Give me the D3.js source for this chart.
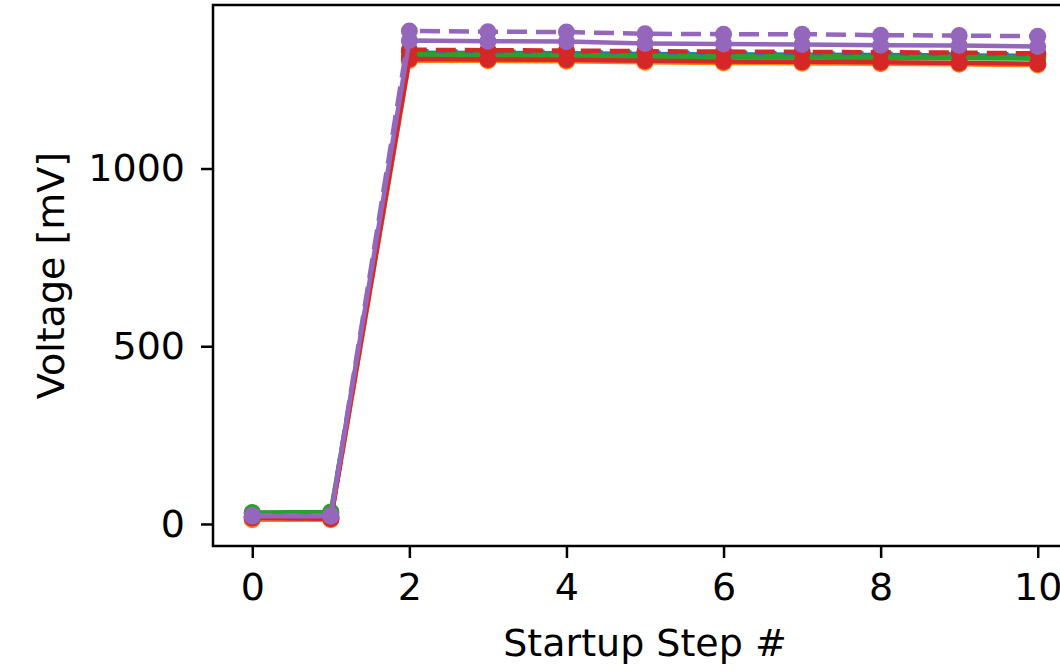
<!DOCTYPE html>
<html lang="en">
<head>
  <meta charset="UTF-8">
  <title>Startup voltage</title>
  <script src="https://d3js.org/d3.v7.min.js"></script>
  <style>
    body { margin: 0; background: #fff; }
    svg text { font-family: "DejaVu Sans", sans-serif; fill: #000; }
  </style>
</head>
<body>
<svg id="chart" width="1060" height="672"></svg>

<script>
// startup steps
var steps = [0, 1, 2, 3, 4, 5, 6, 7, 8, 9, 10];

// voltages in mV
var blueSolid    = [20, 18, 1326, 1325, 1324, 1322, 1321, 1320, 1319, 1318, 1317];
var blueDashed   = [19, 17, 1330, 1329, 1328, 1326, 1325, 1324, 1323, 1322, 1321];
var orangeSolid  = [12, 12, 1304, 1303, 1302, 1299, 1297, 1296, 1295, 1293, 1291];
var orangeDashed = [13, 13, 1306, 1305, 1304, 1301, 1299, 1298, 1297, 1295, 1293];
var greenSolid   = [32, 34, 1318, 1317, 1316, 1314, 1313, 1312, 1311, 1310, 1309];
var greenDashed  = [30, 31, 1322, 1321, 1320, 1318, 1317, 1316, 1315, 1314, 1313];
var redSolid     = [17, 15, 1308, 1307, 1306, 1303, 1301, 1300, 1299, 1297, 1295];
var redDashed    = [18, 16, 1334, 1333, 1332, 1330, 1329, 1328, 1327, 1326, 1324];
var purpleSolid  = [22, 22, 1360, 1358, 1357, 1352, 1350, 1349, 1347, 1346, 1343];
var purpleDashed = [24, 24, 1387, 1385, 1384, 1379, 1378, 1378, 1375, 1374, 1372];

var xTicks = [0, 2, 4, 6, 8, 10];
var yTicks = [0, 500, 1000];

var series = [
  { values: blueSolid,    color: "#1f77b4", dash: null },
  { values: blueDashed,   color: "#1f77b4", dash: "20,9" },
  { values: orangeSolid,  color: "#ff7f0e", dash: null },
  { values: orangeDashed, color: "#ff7f0e", dash: "20,9" },
  { values: greenSolid,   color: "#2ca02c", dash: null },
  { values: greenDashed,  color: "#2ca02c", dash: "20,9" },
  { values: redSolid,     color: "#d62728", dash: null },
  { values: redDashed,    color: "#d62728", dash: "20,9" },
  { values: purpleSolid,  color: "#9467bd", dash: null },
  { values: purpleDashed, color: "#9467bd", dash: "20,9" }
];

var svg = d3.select("#chart"),
    pLeft = 213, pTop = 5, pRight = 1077, pBottom = 546;

var x = d3.scaleLinear().domain([-0.5, 10.5]).range([pLeft, pRight]);
var y = d3.scaleLinear().domain([-62, 1460]).range([pBottom, pTop]);

svg.append("defs").append("clipPath").attr("id", "clip")
  .append("rect")
  .attr("x", pLeft).attr("y", pTop)
  .attr("width", pRight - pLeft).attr("height", pBottom - pTop);

var plot = svg.append("g").attr("clip-path", "url(#clip)");

var line = d3.line()
  .x(function (d, i) { return x(steps[i]); })
  .y(function (d) { return y(d); });

series.forEach(function (s) {
  var g = plot.append("g");
  g.append("path")
    .attr("d", line(s.values))
    .attr("fill", "none")
    .attr("stroke", s.color)
    .attr("stroke-width", 4.5)
    .attr("stroke-dasharray", s.dash)
    .attr("stroke-linejoin", "round");
  g.selectAll("circle")
    .data(s.values)
    .enter().append("circle")
    .attr("cx", function (d, i) { return x(steps[i]); })
    .attr("cy", function (d) { return y(d); })
    .attr("r", 8.5)
    .attr("fill", s.color);
});

// axes
var xAxis = d3.axisBottom(x).tickValues(xTicks).tickFormat(d3.format("d"))
  .tickSize(12).tickPadding(15).tickSizeOuter(0);
var yAxis = d3.axisLeft(y).tickValues(yTicks).tickFormat(d3.format("d"))
  .tickSize(12).tickPadding(16).tickSizeOuter(0);

var gx = svg.append("g").attr("transform", "translate(0," + pBottom + ")").call(xAxis);
var gy = svg.append("g").attr("transform", "translate(" + pLeft + ",0)").call(yAxis);

[gx, gy].forEach(function (g) {
  g.select(".domain").remove();
  g.selectAll(".tick line").attr("stroke", "#000").attr("stroke-width", 2.5);
  g.selectAll(".tick text").attr("font-size", 38).attr("font-family", "DejaVu Sans");
});

// frame
svg.append("rect")
  .attr("x", pLeft).attr("y", pTop)
  .attr("width", pRight - pLeft).attr("height", pBottom - pTop)
  .attr("fill", "none")
  .attr("stroke", "#000")
  .attr("stroke-width", 2.5);

// labels
svg.append("text")
  .attr("x", (pLeft + pRight) / 2)
  .attr("y", 656)
  .attr("text-anchor", "middle")
  .attr("font-size", 38)
  .text("Startup Step #");

svg.append("text")
  .attr("transform", "translate(64," + (pTop + pBottom) / 2 + ") rotate(-90)")
  .attr("text-anchor", "middle")
  .attr("font-size", 38)
  .text("Voltage [mV]");
</script>
</body>
</html>
